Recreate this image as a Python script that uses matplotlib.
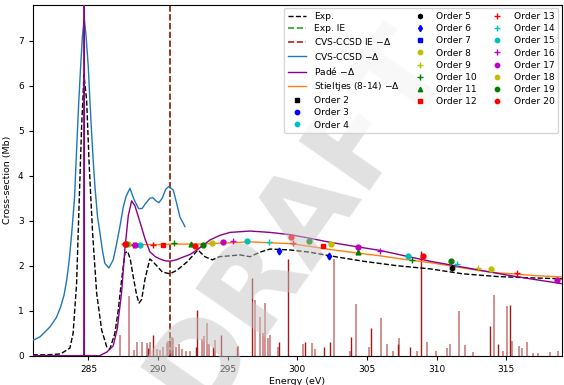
import matplotlib
matplotlib.use("Agg")
import matplotlib.pyplot as plt

# experimental spectrum
exp_e = [281.0, 282.0, 283.0, 283.67, 283.9, 284.15, 284.34, 284.51, 284.68, 284.87,
         285.06, 285.3, 285.59, 285.95, 286.31, 286.54, 286.9, 287.14, 287.38, 287.62,
         287.81, 288.0, 288.22, 288.46, 288.63, 288.82, 289.06, 289.41, 289.6, 289.9,
         290.3, 290.85, 291.36, 292.07, 292.86, 293.36, 293.9, 294.4, 295.16, 295.88,
         296.6, 297.31, 298.03, 299.47, 300.9, 302.34, 304.71, 307.15, 309.52, 311.88,
         314.33, 316.7, 319.0]
exp_y = [0.02, 0.02, 0.04, 0.17, 0.5, 1.6, 3.46, 5.09, 6.24, 5.68,
         4.2, 2.72, 1.39, 0.57, 0.2, 0.15, 0.5, 1.01, 1.68, 2.28,
         2.32, 2.15, 1.75, 1.35, 1.17, 1.25, 1.7, 2.15, 2.1, 2.0,
         1.86, 1.82, 1.9, 2.08, 2.35, 2.2, 2.13, 2.2, 2.22, 2.24,
         2.2, 2.3, 2.37, 2.35, 2.3, 2.22, 2.1, 2.0, 1.93, 1.82,
         1.76, 1.73, 1.71]

exp_ie = 290.85
cvs_ie = 290.85

# CVS-CCSD broadened spectrum
cc_e = [281.0, 281.52, 282.24, 282.7, 283.0, 283.25, 283.44, 283.62, 283.8, 284.0,
        284.15, 284.3, 284.44, 284.57, 284.7, 284.83, 284.99, 285.1, 285.23, 285.35,
        285.47, 285.65, 285.83, 286.0, 286.18, 286.47, 286.78, 287.0, 287.26, 287.5,
        287.69, 287.98, 288.29, 288.6, 288.85, 289.1, 289.41, 289.63, 289.85, 290.06,
        290.3, 290.55, 290.78, 291.09, 291.33, 291.57, 291.93]
cc_y = [0.34, 0.42, 0.64, 0.85, 1.08, 1.35, 1.68, 2.12, 2.72, 3.5,
        4.57, 5.6, 6.42, 7.1, 7.5, 7.1, 6.42, 5.7, 4.94, 4.3,
        3.75, 3.1, 2.72, 2.35, 2.05, 1.95, 2.13, 2.45, 2.87, 3.3,
        3.53, 3.72, 3.46, 3.27, 3.27, 3.38, 3.5, 3.51, 3.44, 3.4,
        3.5, 3.7, 3.76, 3.68, 3.39, 3.08, 2.87]

# Pade
pade_e = [281.0, 284.6, 284.69, 284.7, 284.71, 285.0, 285.8, 286.31, 286.78, 287.07,
          287.38, 287.62, 287.86, 288.1, 288.34, 288.7, 289.06, 289.41, 289.8, 290.13,
          290.5, 290.85, 291.3, 291.78, 292.3, 292.79, 293.3, 293.72, 294.4, 295.16,
          296.6, 298.03, 299.47, 300.9, 302.34, 304.1, 305.93, 307.7, 309.52, 311.3,
          313.11, 314.9, 316.7, 319.0]
pade_y = [0.0, 0.0, 0.0, 9.0, 0.0, 0.0, 0.0, 0.08, 0.22, 0.6,
          1.41, 2.37, 3.11, 3.44, 3.33, 2.97, 2.6, 2.31, 2.2, 2.15,
          2.11, 2.1, 2.13, 2.19, 2.25, 2.35, 2.47, 2.57, 2.67, 2.74,
          2.77, 2.74, 2.69, 2.61, 2.52, 2.43, 2.34, 2.22, 2.1, 2.0,
          1.9, 1.8, 1.71, 1.6]

# Stieltjes (8-14)
st_e = [287.4, 288.0, 289.0, 290.0, 291.0, 292.0, 292.86, 293.72, 295.16, 296.6,
        298.03, 299.47, 300.9, 302.34, 304.1, 305.93, 307.7, 309.52, 311.3, 313.11,
        314.4, 315.48, 317.0, 319.0]
st_y = [2.48, 2.47, 2.47, 2.47, 2.48, 2.48, 2.48, 2.49, 2.51, 2.53,
        2.51, 2.49, 2.43, 2.36, 2.29, 2.22, 2.14, 2.07, 1.98, 1.89,
        1.84, 1.82, 1.78, 1.75]

# stick spectrum
dark_e = [289.29, 289.61, 292.72, 292.81, 293.92, 294.55, 295.64, 296.77, 298.71, 299.34,
          300.54, 301.91, 302.34, 303.87, 305.28, 307.22, 308.08, 308.89, 313.82, 314.42,
          315.28]
dark_h = [0.18, 0.46, 0.2, 1.01, 0.2, 0.46, 0.2, 1.72, 0.3, 2.16,
          0.3, 0.2, 0.3, 0.42, 0.62, 0.26, 0.2, 2.33, 0.66, 0.26,
          1.12]
light_e = [284.7, 287.26, 287.93, 288.27, 288.46, 288.82, 289.22, 289.41, 289.9, 290.13,
           290.37, 290.61, 290.73, 290.85, 290.97, 291.09, 291.28, 291.52, 291.69, 292.0,
           292.29, 293.13, 293.29, 293.53, 293.67, 294.08, 295.75, 296.95, 297.31, 297.51,
           297.67, 297.86, 298.03, 298.6, 300.42, 301.02, 301.26, 302.65, 303.75, 304.2,
           305.16, 305.98, 306.41, 306.84, 307.27, 308.56, 309.28, 309.95, 310.71, 310.95,
           311.58, 312.03, 312.6, 314.09, 314.78, 315.02, 315.38, 315.88, 316.1, 316.46,
           316.9, 317.3, 318.13, 318.7]
light_h = [0.3, 0.46, 1.33, 0.13, 0.3, 0.31, 0.28, 0.3, 0.16, 0.12,
           0.2, 0.28, 0.33, 0.37, 0.42, 0.4, 0.2, 0.25, 0.15, 0.1,
           0.1, 0.38, 0.44, 0.73, 0.26, 0.34, 0.22, 1.24, 0.85, 0.5,
           1.17, 0.4, 0.46, 0.2, 0.25, 0.28, 0.15, 2.16, 0.1, 1.16,
           0.2, 0.83, 0.26, 0.1, 0.4, 0.1, 0.31, 0.1, 0.18, 0.26,
           0.99, 0.24, 0.08, 1.34, 0.1, 1.1, 0.33, 0.22, 0.18, 0.3,
           0.05, 0.05, 0.08, 0.1]

# Stieltjes orders
orders = list(range(2, 21))
order_colors = ['k', 'b', 'c', 'k', 'b', 'b', 'y', 'y', 'g', 'g',
                'r', 'r', 'c', 'c', 'm', 'm', 'y', 'g', 'r']
order_markers = ['s', 'o', 'o', 'h', 'd', 's', 'o', '+', '+', '^',
                 's', '+', '+', 'o', '+', 'o', 'o', 'o', 'o']
order_e = {5: [311.07], 6: [298.7, 302.29], 9: [312.98], 10: [291.16, 308.25],
           11: [292.33, 304.32], 12: [290.37, 301.81], 13: [289.65, 299.7, 315.78],
           14: [297.98, 311.48], 15: [288.7, 296.4, 307.91], 16: [288.2, 295.4, 305.93],
           17: [288.34, 294.68, 304.32, 318.65], 18: [287.85, 293.84, 302.41, 313.87],
           19: [287.72, 293.2, 300.83, 311.0], 20: [287.6, 292.65, 299.52, 309.0]}
order_y = {5: [1.94], 6: [2.33, 2.22], 9: [1.94], 10: [2.5, 2.13],
           11: [2.49, 2.31], 12: [2.47, 2.44], 13: [2.47, 2.5, 1.83],
           14: [2.53, 2.03], 15: [2.46, 2.56, 2.22], 16: [2.47, 2.56, 2.33],
           17: [2.47, 2.53, 2.42, 1.68], 18: [2.48, 2.5, 2.48, 1.92],
           19: [2.48, 2.46, 2.56, 2.1], 20: [2.48, 2.44, 2.63, 2.22]}

fig = plt.figure(figsize=(5.64, 3.85), dpi=100)
ax = fig.add_axes([0.058, 0.076, 0.9385, 0.912])

ax.vlines(light_e, 0, light_h, color='#c06060', alpha=0.75, lw=1.3, zorder=1)
ax.vlines(dark_e, 0, dark_h, color='#a01818', lw=1.0, zorder=1)

ax.plot(exp_e, exp_y, 'k--', lw=1.0, label='Exp.', zorder=3)
ax.axvline(exp_ie, color='#2ca02c', ls='--', lw=1.2, label='Exp. IE', zorder=2)
ax.axvline(cvs_ie, color='#b22222', ls='--', lw=1.2, label='CVS-CCSD IE $-\\Delta$', zorder=2)
ax.plot(cc_e, cc_y, color='#1f77b4', lw=1.0, label='CVS-CCSD $-\\Delta$', zorder=3)
ax.plot(pade_e, pade_y, color='#8b008b', lw=1.0, label='Padé $-\\Delta$', zorder=4)
ax.plot(st_e, st_y, color='#ff7f0e', lw=1.0, label='Stieltjes (8-14) $-\\Delta$', zorder=3)

for n, c, m in zip(orders, order_colors, order_markers):
    xs = order_e.get(n, [])
    ys = order_y.get(n, [])
    ms = 5 if m == '+' else 3.5
    ax.plot(xs, ys, ls='none', marker=m, color=c, ms=ms, mew=1.0,
            label='Order %d' % n, zorder=5)

ax.set_xlim(281.0, 319.0)
ax.set_ylim(0, 7.8)
ax.set_xticks([285, 290, 295, 300, 305, 310, 315])
ax.set_yticks(range(8))
ax.tick_params(labelsize=6.5, length=3, width=0.8)
ax.set_xlabel('Energy (eV)', fontsize=6.8, labelpad=2)
ax.set_ylabel('Cross-section (Mb)', fontsize=6.8, labelpad=4)

leg = ax.legend(loc='upper right', ncol=3, fontsize=6.6, handlelength=2.0,
                labelspacing=0.35, columnspacing=1.2, borderaxespad=0.4, markerscale=0.9)
leg.set_zorder(20)

# watermark, above the data but under the legend
ax.text(0.53, 0.43, 'DRAFT', transform=fig.transFigure, fontsize=84, color='#c4c4c4',
        alpha=0.5, rotation=55, ha='center', va='center', weight='bold', zorder=10)

fig.savefig('out.png', dpi=100)
